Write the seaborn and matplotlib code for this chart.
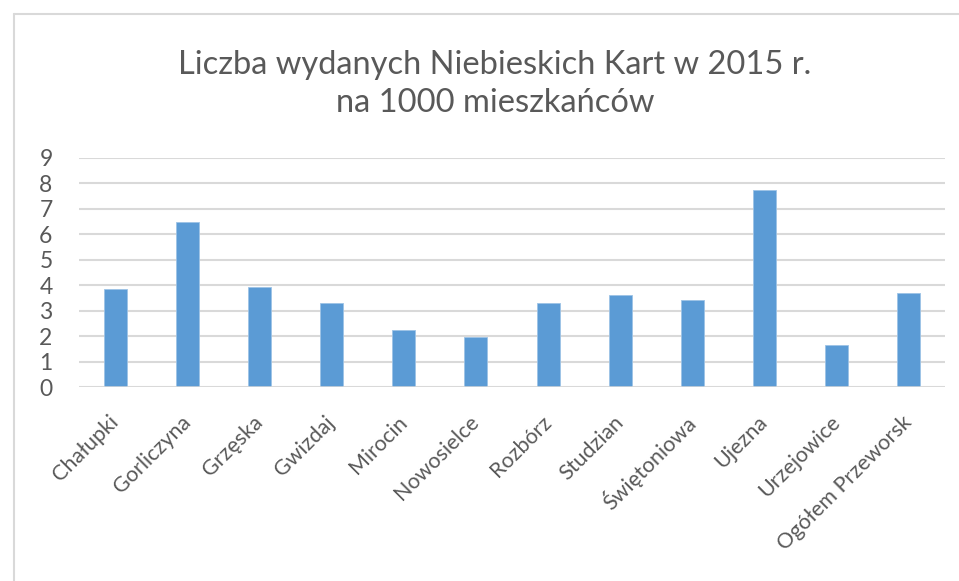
import matplotlib
matplotlib.use('Agg')
import matplotlib.pyplot as plt
import seaborn as sns
import pandas as pd
from matplotlib.lines import Line2D

# data
gminy = ['Chałupki', 'Gorliczyna', 'Grzęska', 'Gwizdaj', 'Mirocin', 'Nowosielce',
         'Rozbórz', 'Studzian', 'Świętoniowa', 'Ujezna', 'Urzejowice', 'Ogółem Przeworsk']
karty = [3.85, 6.49, 3.94, 3.30, 2.25, 1.98, 3.30, 3.61, 3.40, 7.73, 1.67, 3.69]
y_ticks = [0, 1, 2, 3, 4, 5, 6, 7, 8, 9]

df = pd.DataFrame({'gmina': gminy, 'karty': karty})

sns.set_theme(style='white')
plt.rcParams['font.family'] = ['Lato', 'DejaVu Sans']
grey = '#595959'

fig = plt.figure(figsize=(9.59, 5.81), dpi=100)
ax = fig.add_axes([79 / 959, 1 - 387 / 581, 866 / 959, 229 / 581])

sns.barplot(data=df, x='gmina', y='karty', color='#5B9BD5', saturation=1,
            width=0.32, edgecolor='#9DC3E6', linewidth=0.6, ax=ax, zorder=3)

ax.set_ylim(0, 9)
ax.set_yticks(y_ticks)
ax.yaxis.grid(True, color='#D9D9D9', linewidth=1.5, zorder=0)
ax.set_axisbelow(True)
for s in ax.spines.values():
    s.set_visible(False)
ax.axhline(0, color='#D9D9D9', linewidth=1.8, zorder=4)

ax.set_xlabel('')
ax.set_ylabel('')
ax.tick_params(axis='y', labelsize=16.5, colors=grey, length=0, pad=19)
ax.tick_params(axis='x', labelsize=15.5, colors=grey, length=0, pad=23)
plt.setp(ax.get_xticklabels(), rotation=45, ha='right', va='center', rotation_mode='anchor')

fig.text(495 / 959, 1 - 84 / 581, 'Liczba wydanych Niebieskich Kart w 2015 r.\nna 1000 mieszkańców',
         ha='center', va='center', fontsize=23.5, color=grey, linespacing=1.35)

# chart frame (only left and top edges visible)
fig.add_artist(Line2D([14 / 959, 14 / 959], [0, 1 - 14 / 581], transform=fig.transFigure,
                      color='#D9D9D9', linewidth=1.5))
fig.add_artist(Line2D([14 / 959, 1], [1 - 14 / 581, 1 - 14 / 581], transform=fig.transFigure,
                      color='#D9D9D9', linewidth=1.5))

fig.savefig('out.png', dpi=100)
